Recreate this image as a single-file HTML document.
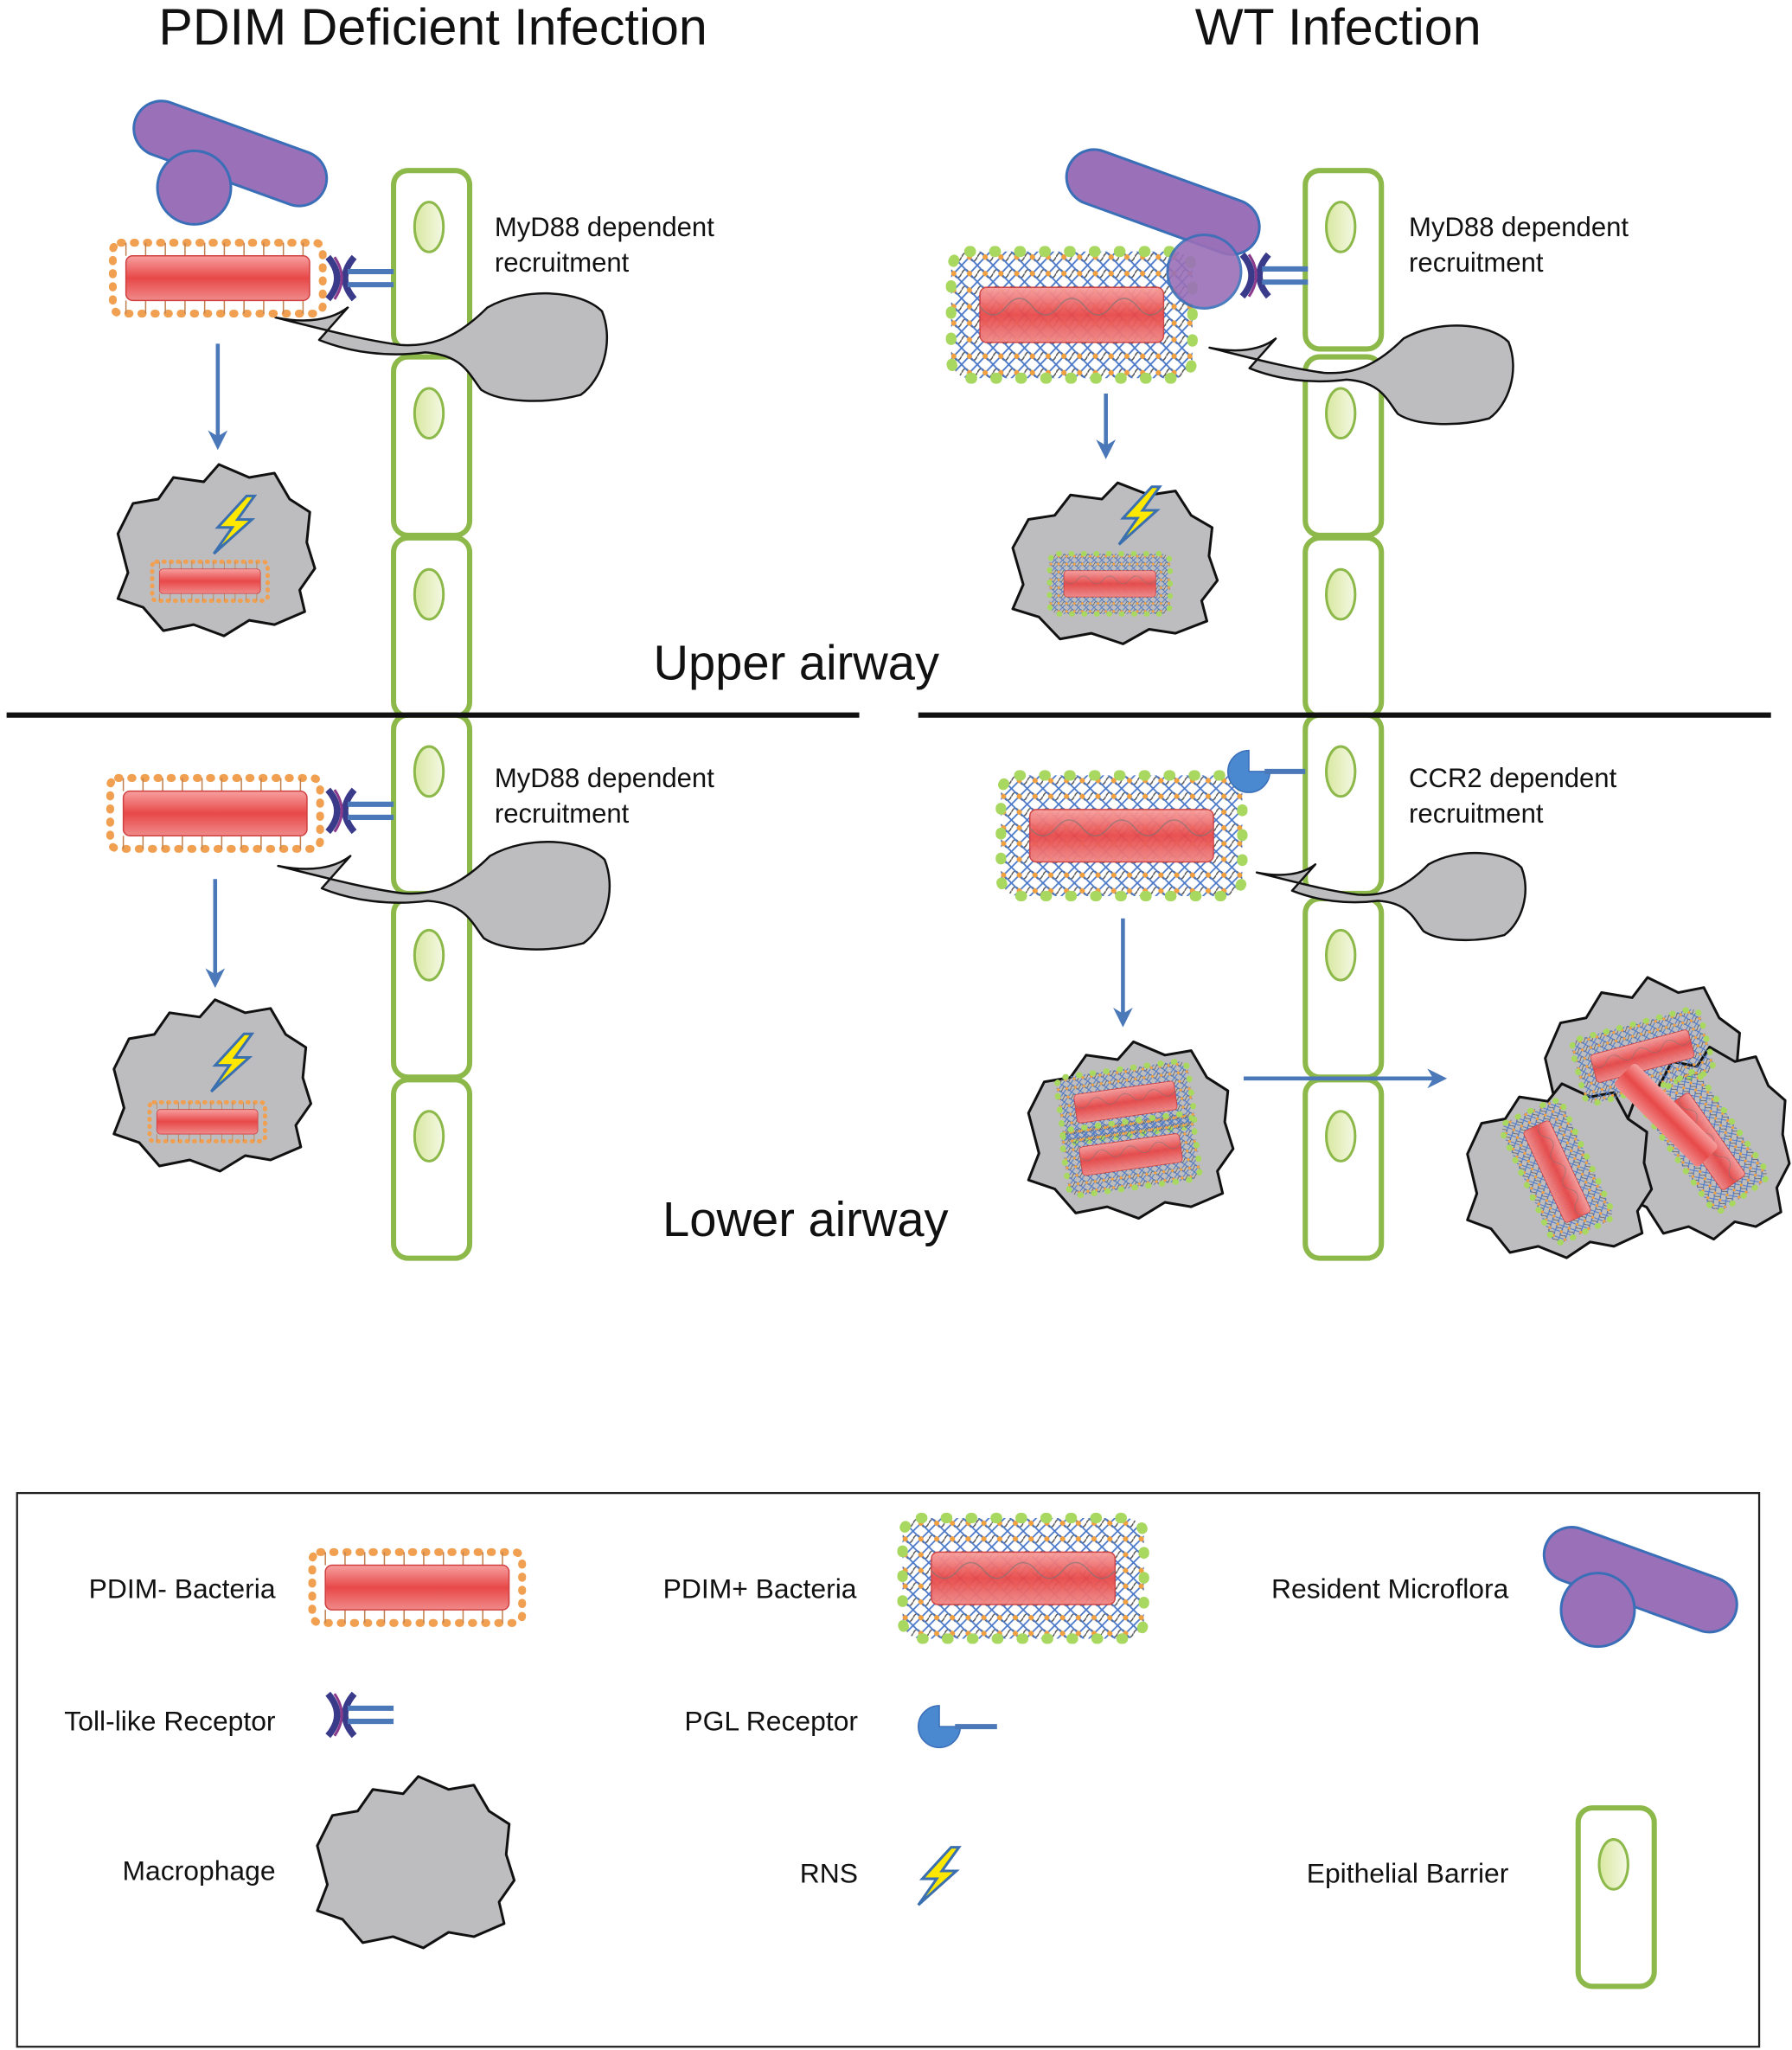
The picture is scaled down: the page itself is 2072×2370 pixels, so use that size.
<!DOCTYPE html>
<html><head><meta charset="utf-8"><style>html,body{margin:0;padding:0;background:#fff}svg{display:block}text{font-family:"Liberation Sans",sans-serif;fill:#111}</style></head><body>
<svg width="2072" height="2370" viewBox="0 0 1366 1562.5" xmlns="http://www.w3.org/2000/svg">
<defs>
<linearGradient id="rg" x1="0" y1="0" x2="0" y2="1"><stop offset="0" stop-color="#f7a0a0"/><stop offset="0.5" stop-color="#e84848"/><stop offset="1" stop-color="#f08a8a"/></linearGradient>
<linearGradient id="ng" x1="0" y1="0" x2="1" y2="0"><stop offset="0" stop-color="#d8e8a0"/><stop offset="1" stop-color="#f4f8e4"/></linearGradient>
<pattern id="hatch" width="12" height="12" patternUnits="userSpaceOnUse"><path d="M0,6 Q3,0 6,6 T12,6" fill="none" stroke="#555" stroke-width="1"/><path d="M0,0 L12,12 M12,0 L0,12" stroke="#4a78c8" stroke-width="1.2"/><circle cx="6" cy="6" r="2" fill="#f0a040"/></pattern>
<g id="minus">
<rect x="-80" y="-27" width="160" height="54" rx="6" fill="none" stroke="#f0a050" stroke-width="6" stroke-dasharray="1 9" stroke-linecap="round"/>
<path d="M-70,-27 V-17 M-55,-27 V-17 M-40,-27 V-17 M-25,-27 V-17 M-10,-27 V-17 M5,-27 V-17 M20,-27 V-17 M35,-27 V-17 M50,-27 V-17 M65,-27 V-17 M-70,27 V17 M-55,27 V17 M-40,27 V17 M-25,27 V17 M-10,27 V17 M5,27 V17 M20,27 V17 M35,27 V17 M50,27 V17 M65,27 V17" stroke="#c08050" stroke-width="1"/>
<rect x="-70" y="-17" width="140" height="34" rx="5" fill="url(#rg)" stroke="#d04040"/>
</g>
<g id="plus">
<rect x="-92" y="-46" width="184" height="92" rx="14" fill="url(#hatch)"/>
<rect x="-92" y="-46" width="184" height="92" rx="14" fill="none" stroke="#a8d860" stroke-width="8" stroke-dasharray="1 18" stroke-linecap="round"/>
<rect x="-70" y="-20" width="140" height="40" rx="5" fill="url(#rg)" stroke="#d04040" opacity="0.95"/>
<path d="M-70,-6 Q-60,6 -50,-6 T-30,-6 T-10,-6 T10,-6 T30,-6 T50,-6 T70,-6" fill="none" stroke="#777" stroke-width="1" opacity="0.6"/>
</g>
<path id="mac" d="M-0.95,-0.2 L-0.8,-0.55 L-0.55,-0.6 L-0.4,-0.85 L-0.1,-0.8 L0.05,-1 L0.35,-0.85 L0.6,-0.9 L0.75,-0.6 L0.95,-0.45 L0.92,-0.1 L1,0.2 L0.85,0.45 L0.9,0.7 L0.6,0.85 L0.35,0.8 L0.1,0.98 L-0.2,0.85 L-0.5,0.92 L-0.7,0.65 L-0.95,0.55 L-0.85,0.25 Z" fill="#bdbdbf" stroke="#111" stroke-width="3" vector-effect="non-scaling-stroke" stroke-linejoin="round"/>
<path id="dc" d="M0,0 C40,10 70,18 100,22 C130,24 150,12 170,-8 C200,-25 245,-22 262,-5 C272,20 262,50 245,62 C215,70 180,68 165,58 C155,45 150,30 120,28 C90,32 60,28 35,18 L58,-8 C45,2 25,5 0,0 Z" fill="#bdbdbf" stroke="#111" stroke-width="2.5" stroke-linejoin="round" vector-effect="non-scaling-stroke"/>
<g id="tlr"><path d="M-10,-16 Q4,0 -10,16 M10,-16 Q-4,0 10,16" fill="none" stroke="#3a3a8a" stroke-width="5"/><path d="M-5,-16 Q6,0 -5,16" fill="none" stroke="#8a3a8a" stroke-width="2"/><path d="M5,-5 H40 M5,5 H40" stroke="#4a78b8" stroke-width="4"/></g>
<polygon id="rns" points="10,-22 -12,2 -1,2 -15,22 14,-4 3,-4 16,-22" fill="#ffe800" stroke="#3a6fb0" stroke-width="2"/>
<g id="micro"><line x1="0" y1="0" x2="105" y2="38" stroke="#3a6fb8" stroke-width="44" stroke-linecap="round"/><line x1="0" y1="0" x2="105" y2="38" stroke="#9a70b8" stroke-width="40" stroke-linecap="round"/></g>
<g id="cell"><rect x="0" y="0" width="58" height="136" rx="11" fill="#fff" stroke="#8db84a" stroke-width="4"/><ellipse cx="27" cy="43" rx="11" ry="19" fill="url(#ng)" stroke="#8db84a" stroke-width="2"/></g>
<marker id="ah" viewBox="0 0 10 10" refX="8" refY="5" markerWidth="5" markerHeight="5" orient="auto"><path d="M0,0 L10,5 L0,10 L3,5 Z" fill="#4a78b8"/></marker>
</defs>

<text x="330" y="34" font-size="39" text-anchor="middle">PDIM Deficient Infection</text>
<text x="1020" y="34" font-size="39" text-anchor="middle">WT Infection</text>

<use href="#cell" x="300" y="130"/><use href="#cell" x="300" y="272"/><use href="#cell" x="300" y="410"/><use href="#cell" x="300" y="545"/><use href="#cell" x="300" y="685"/><use href="#cell" x="300" y="823"/>
<use href="#cell" x="995" y="130"/><use href="#cell" x="995" y="272"/><use href="#cell" x="995" y="410"/><use href="#cell" x="995" y="545"/><use href="#cell" x="995" y="685"/><use href="#cell" x="995" y="823"/>

<line x1="5" y1="545" x2="655" y2="545" stroke="#111" stroke-width="4"/>
<line x1="700" y1="545" x2="1350" y2="545" stroke="#111" stroke-width="4"/>
<text x="607" y="518" font-size="37" text-anchor="middle">Upper airway</text>
<text x="614" y="942" font-size="37" text-anchor="middle">Lower airway</text>

<text x="377" y="180" font-size="20.5">MyD88 dependent</text><text x="377" y="207" font-size="20.5">recruitment</text>
<text x="1074" y="180" font-size="20.5">MyD88 dependent</text><text x="1074" y="207" font-size="20.5">recruitment</text>
<text x="377" y="600" font-size="20.5">MyD88 dependent</text><text x="377" y="627" font-size="20.5">recruitment</text>
<text x="1074" y="600" font-size="20.5">CCR2 dependent</text><text x="1074" y="627" font-size="20.5">recruitment</text>

<!-- left top -->
<use href="#micro" x="123" y="98"/><circle cx="148" cy="143" r="28" fill="#9a70b8" stroke="#3a6fb8" stroke-width="2"/>
<g transform="translate(210,242) scale(0.95)"><use href="#dc"/></g>
<use href="#minus" x="166" y="212"/>
<use href="#tlr" x="260" y="212"/>
<line x1="166" y1="262" x2="166" y2="340" stroke="#4a78b8" stroke-width="3" marker-end="url(#ah)"/>
<use href="#mac" transform="translate(163,420) scale(77,66)"/>
<g transform="translate(160,443) scale(0.55)"><use href="#minus"/></g>
<use href="#rns" x="178" y="400"/>

<!-- left bottom -->
<g transform="translate(212,660) scale(0.95)"><use href="#dc"/></g>
<use href="#minus" x="164" y="620"/>
<use href="#tlr" x="260" y="618"/>
<line x1="164" y1="670" x2="164" y2="750" stroke="#4a78b8" stroke-width="3" marker-end="url(#ah)"/>
<use href="#mac" transform="translate(160,828) scale(77,66)"/>
<g transform="translate(158,855) scale(0.55)"><use href="#minus"/></g>
<use href="#rns" x="176" y="810"/>

<!-- right top -->
<use href="#micro" x="834" y="135"/>
<g transform="translate(922,265) scale(0.87)"><use href="#dc"/></g>
<g transform="translate(817,240) scale(1.0,1.05)"><use href="#plus"/></g>
<circle cx="918" cy="207" r="28" fill="#9a70b8" stroke="#3a6fb8" stroke-width="2" opacity="0.9"/>
<use href="#tlr" x="957" y="210"/>
<line x1="843" y1="300" x2="843" y2="347" stroke="#4a78b8" stroke-width="3" marker-end="url(#ah)"/>
<use href="#mac" transform="translate(848,430) scale(80,62)"/>
<g transform="translate(846,445) scale(0.5)"><use href="#plus"/></g>
<use href="#rns" x="868" y="393"/>

<!-- right bottom -->
<g transform="translate(958,665) scale(0.77)"><use href="#dc"/></g>
<use href="#plus" x="855" y="637"/>
<path d="M952,572 A16,16 0 1 0 968,588 L952,588 Z" fill="#4a88d0" stroke="#3a6fb8"/>
<line x1="964" y1="588" x2="995" y2="588" stroke="#4a78b8" stroke-width="4"/>
<line x1="856" y1="700" x2="856" y2="780" stroke="#4a78b8" stroke-width="3" marker-end="url(#ah)"/>
<use href="#mac" transform="translate(860,862) scale(80,68)"/>
<g transform="translate(858,840) scale(0.55) rotate(-8)"><use href="#plus"/></g>
<g transform="translate(862,880) scale(0.55) rotate(-8)"><use href="#plus"/></g>
<line x1="948" y1="822" x2="1100" y2="822" stroke="#4a78b8" stroke-width="3" marker-end="url(#ah)"/>
<use href="#mac" transform="translate(1252,822) scale(78,77)"/>
<use href="#mac" transform="translate(1300,872) scale(64,74)"/>
<use href="#mac" transform="translate(1187,893) scale(72,67)"/>
<g transform="translate(1252,805) scale(0.55) rotate(-15)"><use href="#plus"/></g>
<g transform="translate(1300,870) scale(0.55) rotate(55)"><use href="#plus"/></g>
<g transform="translate(1187,893) scale(0.55) rotate(65)"><use href="#plus"/></g>
<g transform="translate(1270,850) scale(0.65) rotate(45)"><rect x="-70" y="-18" width="140" height="36" rx="5" fill="url(#rg)"/></g>

<!-- legend -->
<rect x="13" y="1138" width="1328" height="422" fill="none" stroke="#222" stroke-width="1.5"/>
<text x="210" y="1218" font-size="21" text-anchor="end">PDIM- Bacteria</text>
<use href="#minus" x="318" y="1210"/>
<text x="653" y="1218" font-size="21" text-anchor="end">PDIM+ Bacteria</text>
<use href="#plus" x="780" y="1203"/>
<text x="1150" y="1218" font-size="21" text-anchor="end">Resident Microflora</text>
<use href="#micro" x="1198" y="1185"/><circle cx="1218" cy="1227" r="28" fill="#9a70b8" stroke="#3a6fb8" stroke-width="2"/>
<text x="210" y="1319" font-size="21" text-anchor="end">Toll-like Receptor</text>
<use href="#tlr" x="260" y="1307"/>
<text x="654" y="1319" font-size="21" text-anchor="end">PGL Receptor</text>
<path d="M716,1300 A16,16 0 1 0 732,1316 L716,1316 Z" fill="#4a88d0" stroke="#3a6fb8"/>
<line x1="728" y1="1316" x2="760" y2="1316" stroke="#4a78b8" stroke-width="4"/>
<text x="210" y="1433" font-size="21" text-anchor="end">Macrophage</text>
<use href="#mac" transform="translate(315,1420) scale(77,66)"/>
<text x="654" y="1435" font-size="21" text-anchor="end">RNS</text>
<use href="#rns" x="715" y="1430"/>
<text x="1150" y="1435" font-size="21" text-anchor="end">Epithelial Barrier</text>
<use href="#cell" x="1203" y="1378"/>
</svg>
</body></html>
